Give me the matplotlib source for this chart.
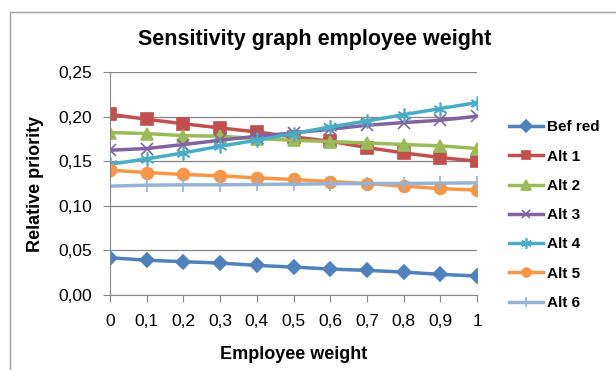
import matplotlib
matplotlib.use("Agg")
import matplotlib.pyplot as plt
from matplotlib.patches import Rectangle

plt.rcParams['font.family'] = ['Liberation Sans', 'DejaVu Sans']

# data
weights = [0, 0.1, 0.2, 0.3, 0.4, 0.5, 0.6, 0.7, 0.8, 0.9, 1]
x_labels = ['0', '0,1', '0,2', '0,3', '0,4', '0,5', '0,6', '0,7', '0,8', '0,9', '1']
bef_red = [0.0418, 0.0390, 0.0373, 0.0358, 0.0332, 0.0313, 0.0291, 0.0276, 0.0257, 0.0231, 0.0213]
alt1 = [0.2026, 0.1970, 0.1920, 0.1873, 0.1828, 0.1772, 0.1724, 0.1653, 0.1593, 0.1541, 0.1500]
alt2 = [0.1821, 0.1810, 0.1787, 0.1780, 0.1754, 0.1735, 0.1720, 0.1705, 0.1687, 0.1672, 0.1642]
alt3 = [0.1623, 0.1642, 0.1687, 0.1735, 0.1780, 0.1817, 0.1858, 0.1903, 0.1933, 0.1959, 0.2004]
alt4 = [0.1466, 0.1526, 0.1593, 0.1668, 0.1735, 0.1810, 0.1884, 0.1951, 0.2022, 0.2090, 0.2157]
alt5 = [0.1399, 0.1373, 0.1351, 0.1336, 0.1313, 0.1295, 0.1272, 0.1250, 0.1220, 0.1194, 0.1175]
alt6 = [0.1220, 0.1231, 0.1235, 0.1235, 0.1239, 0.1243, 0.1246, 0.1250, 0.1250, 0.1254, 0.1257]

series = [
    ('Bef red', bef_red, '#4F81BD', 'D', 7.5),
    ('Alt 1', alt1, '#C0504D', 's', 8.5),
    ('Alt 2', alt2, '#9BBB59', '^', 9),
    ('Alt 3', alt3, '#8064A2', 'x', 8),
    ('Alt 4', alt4, '#4BACC6', (6, 2, 0), 10),
    ('Alt 5', alt5, '#F79646', 'o', 8.5),
    ('Alt 6', alt6, '#95B3D7', '|', 10),
]

fig = plt.figure(figsize=(6.16, 3.70), dpi=100)
ax = fig.add_axes([110 / 616, 75 / 370, 367 / 616, 223 / 370])

# chart frame (only top and left edges visible in the crop)
fig.patches.append(Rectangle((10 / 616, -0.1), 1.0, (358 / 370) + 0.1,
                             transform=fig.transFigure, fill=False,
                             edgecolor='#A0A0A0', linewidth=1.0))

for name, vals, col, mk, ms in series:
    ax.plot(weights, vals, color=col, marker=mk, markersize=ms,
            linewidth=2.5, markeredgewidth=1.2, label=name)

ax.set_xlim(0, 1)
ax.set_ylim(0, 0.25)
ax.set_xticks(weights)
ax.set_xticklabels(x_labels)
ax.set_yticks([0, 0.05, 0.10, 0.15, 0.20, 0.25])
ax.set_yticklabels(['0,00', '0,05', '0,10', '0,15', '0,20', '0,25'])
ax.tick_params(axis='both', labelsize=12.5, color='#868686', length=5, direction='out')
ax.tick_params(axis='x', pad=9)
ax.tick_params(axis='y', pad=8)
ax.grid(axis='y', color='#868686', linewidth=0.9)
ax.set_axisbelow(True)
for s in ['top', 'right']:
    ax.spines[s].set_visible(False)
for s in ['left', 'bottom']:
    ax.spines[s].set_color('#868686')

fig.text(315 / 616, 1 - 40 / 370, 'Sensitivity graph employee weight',
         fontsize=15.5, fontweight='bold', ha='center', va='center')
ax.set_xlabel('Employee weight', fontsize=13, fontweight='bold', labelpad=12)
ax.set_ylabel('Relative priority', fontsize=13, fontweight='bold', labelpad=10)

ax.legend(loc='upper left', bbox_to_anchor=(1.05, 0.845), frameon=False,
          prop={'weight': 'bold', 'size': 11}, handlelength=2.2,
          labelspacing=1.0, handletextpad=0.3, markerscale=0.75)

fig.savefig('out.png', dpi=100)
